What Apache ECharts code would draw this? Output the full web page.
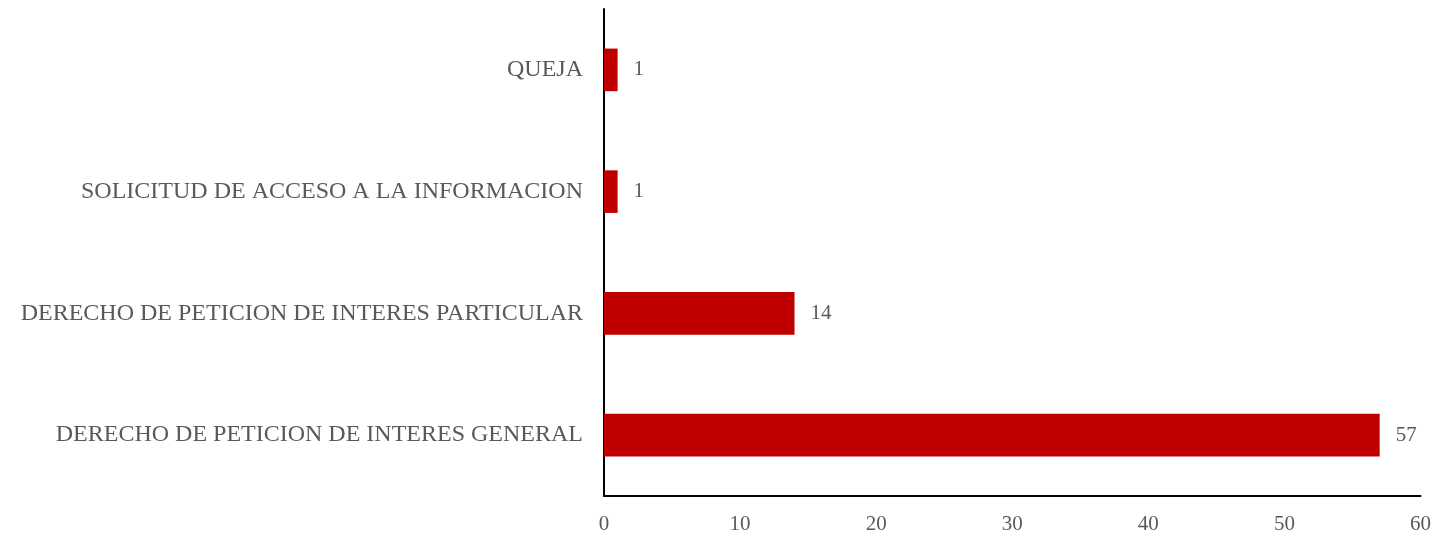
<!DOCTYPE html>
<html>
<head>
<meta charset="utf-8">
<script src="https://cdn.jsdelivr.net/npm/echarts@6/dist/echarts.min.js"></script>
<style>
  html, body { margin: 0; padding: 0; background: #fff; }
  #bar { width: 1434px; height: 535px; }
</style>
</head>
<body>
<div id="bar"></div>
<script>
var categories = [
    'DERECHO DE PETICION DE INTERES GENERAL',
    'DERECHO DE PETICION DE INTERES PARTICULAR',
    'SOLICITUD DE ACCESO A LA INFORMACION',
    'QUEJA'
];
var values = [57, 14, 1, 1];

var dom = document.getElementById("bar");
var myChart = echarts.init(dom);
var textColor = '#595959';
var font = '"Liberation Serif", "DejaVu Serif", serif';

option = {
    animation: false,
    grid: {
        left: 604,
        right: 13,
        top: 9,
        bottom: 38,
        containLabel: false
    },
    xAxis: {
        type: 'value',
        min: 0,
        max: 60,
        interval: 10,
        axisLine: { show: true, lineStyle: { color: '#000', width: 2 } },
        axisTick: { show: false },
        splitLine: { show: false },
        axisLabel: {
            color: textColor,
            fontFamily: font,
            fontSize: 21,
            margin: 18
        }
    },
    yAxis: {
        type: 'category',
        data: categories,
        axisLine: { show: true, lineStyle: { color: '#000', width: 2 } },
        axisTick: { show: false },
        axisLabel: {
            color: textColor,
            fontFamily: font,
            fontSize: 24,
            margin: 21,
            padding: [4, 0, 0, 0]
        }
    },
    series: [
        {
            type: 'bar',
            data: values,
            barWidth: '35%',
            itemStyle: { color: '#C00000' },
            label: {
                show: true,
                position: 'right',
                distance: 16,
                color: textColor,
                fontFamily: font,
                fontSize: 21,
                padding: [4, 0, 0, 0]
            }
        }
    ]
};
if (option && typeof option === "object") {
    myChart.setOption(option, true);
}
</script>
</body>
</html>
